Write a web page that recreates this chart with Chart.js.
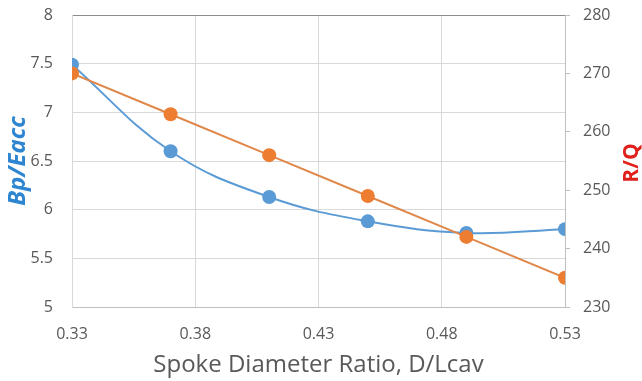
<!DOCTYPE html>
<html>
<head>
<meta charset="utf-8">
<script src="https://cdn.jsdelivr.net/npm/chart.js@4"></script>
<style>
  html, body { margin: 0; padding: 0; background: #fff; }
  #wrap { width: 642px; height: 381px; }
</style>
</head>
<body>
<div id="wrap"><canvas id="chart"></canvas></div>
<script>
// Spoke diameter ratio vs Bp/Eacc and R/Q

const diameterRatio = [0.33, 0.37, 0.41, 0.45, 0.49, 0.53];
const bpEacc = [7.49, 6.60, 6.13, 5.88, 5.76, 5.80];
const rOverQ = [270, 263, 256, 249, 242, 235];
const xTicks = [0.33, 0.38, 0.43, 0.48, 0.53];
const rightTitle = 'R/Q';

const toPoints = (xs, ys) => xs.map((x, i) => ({ x: x, y: ys[i] }));

const tickFont = { family: 'Open Sans', size: 16 };
const tickColor = '#595959';

// Chart.js rotates a right-hand title the other way, so draw it here
const rightTitlePlugin = {
    id: 'rightTitle',
    afterDraw: function(chart) {
        const ctx = chart.ctx;
        const area = chart.chartArea;
        ctx.save();
        ctx.translate(632, (area.top + area.bottom) / 2 + 2);
        ctx.rotate(-Math.PI / 2);
        ctx.font = 'bold 21px "Open Sans"';
        ctx.fillStyle = '#E0201B';
        ctx.textAlign = 'center';
        ctx.textBaseline = 'middle';
        ctx.fillText(rightTitle, 0, 0);
        ctx.restore();
    }
};

// tick padding would otherwise push the plot top down
const fitVertical = (width) => function(scale) {
    scale.width = width;
    scale.paddingTop = 0;
    scale.paddingBottom = 0;
};

new Chart(document.getElementById('chart'), {
    type: 'line',
    data: {
        datasets: [
            {
                label: 'Bp/Eacc',
                data: toPoints(diameterRatio, bpEacc),
                yAxisID: 'y',
                borderColor: '#5B9BD5',
                backgroundColor: '#5B9BD5',
                borderWidth: 2,
                pointRadius: 7,
                pointBorderWidth: 0,
                tension: 0.4,
                order: 1
            },
            {
                label: 'R/Q',
                data: toPoints(diameterRatio, rOverQ),
                yAxisID: 'y1',
                borderColor: '#E0874A',
                backgroundColor: '#ED7D31',
                borderWidth: 2,
                pointRadius: 7,
                pointBorderWidth: 0,
                tension: 0,
                order: 0
            }
        ]
    },
    plugins: [rightTitlePlugin],
    options: {
        responsive: true,
        maintainAspectRatio: false,
        animation: false,
        layout: { padding: { top: 15, left: 0, right: 0, bottom: 0 } },
        plugins: {
            legend: { display: false },
            tooltip: { enabled: false }
        },
        scales: {
            x: {
                type: 'linear',
                min: 0.33,
                max: 0.53,
                afterBuildTicks: function(scale) {
                    scale.ticks = xTicks.map(v => ({ value: v }));
                },
                afterFit: function(scale) { scale.height = 74; },
                grid: { color: '#d9d9d9', drawTicks: false },
                border: { color: '#bfbfbf' },
                ticks: {
                    font: tickFont,
                    color: tickColor,
                    padding: 18,
                    maxRotation: 0,
                    callback: function(value) { return value.toFixed(2); }
                },
                title: {
                    display: true,
                    text: 'Spoke Diameter Ratio, D/Lcav',
                    color: '#595959',
                    font: { family: 'Open Sans', size: 24 },
                    padding: { top: 0, bottom: 1 }
                }
            },
            y: {
                position: 'left',
                min: 5,
                max: 8,
                afterFit: fitVertical(72),
                grid: {
                    drawTicks: false,
                    color: function(ctx) {
                        return ctx.tick && ctx.tick.value === 8 ? '#8c8c8c' : '#d9d9d9';
                    }
                },
                border: { color: '#d9d9d9' },
                ticks: {
                    stepSize: 0.5,
                    font: tickFont,
                    color: tickColor,
                    padding: 19,
                    callback: function(value) { return String(value); }
                },
                title: {
                    display: true,
                    text: 'Bp/Eacc',
                    color: '#2E86D1',
                    font: { family: 'Open Sans', size: 24, weight: 'bold', style: 'italic', lineHeight: 1 },
                    padding: { top: 6, bottom: 0 }
                }
            },
            y1: {
                position: 'right',
                min: 230,
                max: 280,
                afterFit: fitVertical(77),
                grid: { drawOnChartArea: false, tickLength: 5, color: '#bfbfbf' },
                border: { color: '#bfbfbf' },
                ticks: {
                    stepSize: 10,
                    font: tickFont,
                    color: tickColor,
                    padding: 13
                }
            }
        }
    }
});
</script>
</body>
</html>
